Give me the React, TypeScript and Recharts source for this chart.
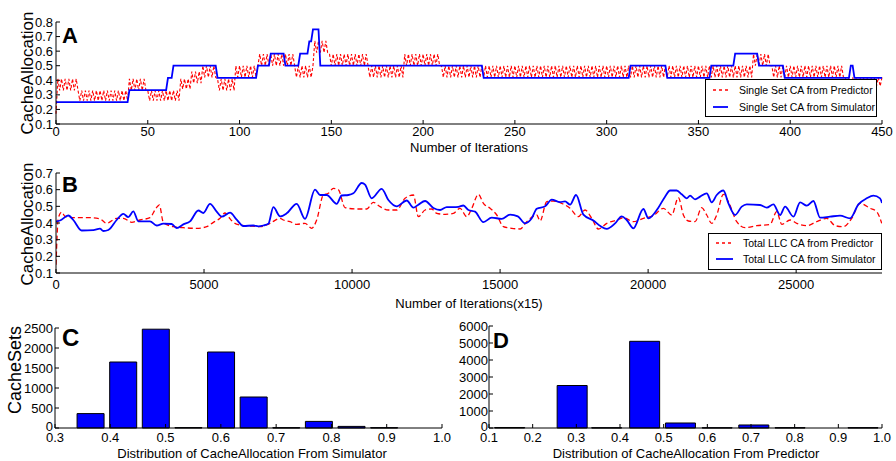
import { LineChart, Line, BarChart, Bar, XAxis, YAxis } from 'recharts';

const FONT = '"Liberation Sans", Arial, Helvetica, sans-serif';
const BLUE = '#0000ff';
const RED = '#ff0000';

// ---- panel A: single cache set, per iteration ----
const iterTicks = [0, 50, 100, 150, 200, 250, 300, 350, 400, 450];
const caTicksA = [0.1, 0.2, 0.3, 0.4, 0.5, 0.6, 0.7, 0.8];
// [first iteration, level] - simulator holds a level until the next entry
const simulatorSteps: [number, number][] = [
  [0, 0.25], [40, 0.333], [61, 0.417], [64, 0.5], [88, 0.417], [110, 0.5],
  [117, 0.583], [125, 0.5], [133, 0.583], [138, 0.667], [140, 0.75], [144, 0.5],
  [233, 0.417], [313, 0.5], [333, 0.417], [357, 0.5], [370, 0.583], [383, 0.5],
  [397, 0.417], [433, 0.5], [435, 0.417],
];
// [from, to, low, high] - predictor flips between low and high every iteration
const predictorBands: [number, number, number, number][] = [
  [0, 1, 0.17, 0.17], [1, 12, 0.33, 0.41], [12, 40, 0.26, 0.33], [40, 50, 0.33, 0.41],
  [50, 68, 0.26, 0.33], [68, 74, 0.34, 0.41], [74, 80, 0.38, 0.46], [80, 88, 0.42, 0.5],
  [88, 98, 0.33, 0.41], [98, 111, 0.42, 0.5], [111, 130, 0.5, 0.58], [130, 141, 0.42, 0.5],
  [141, 149, 0.59, 0.67], [149, 170, 0.5, 0.58], [170, 190, 0.42, 0.5], [190, 210, 0.5, 0.58],
  [210, 380, 0.42, 0.5], [380, 390, 0.5, 0.58], [390, 430, 0.42, 0.5], [430, 451, 0.36, 0.42],
];

// ---- panel B: total LLC, iterations x15 ----
const iterTicksB = [0, 5000, 10000, 15000, 20000, 25000];
const caTicksB = [0.1, 0.2, 0.3, 0.4, 0.5, 0.6, 0.7];
const totalPredictor: [number, number][] = [
  [0, 0.15], [79, 0.43], [191, 0.465], [304, 0.44], [585, 0.432], [1148, 0.432], [1486, 0.425],
  [1711, 0.398], [2049, 0.428], [2274, 0.428], [2556, 0.404], [2837, 0.418], [3175, 0.432],
  [3378, 0.488], [3490, 0.508], [3625, 0.404], [3963, 0.378], [4301, 0.372], [4752, 0.368],
  [5090, 0.378], [5315, 0.404], [5540, 0.428], [5709, 0.46], [5822, 0.438], [5991, 0.404],
  [6216, 0.388], [6553, 0.382], [6891, 0.378], [7229, 0.398], [7567, 0.428], [7680, 0.418],
  [7905, 0.408], [8130, 0.392], [8411, 0.398], [8636, 0.368], [8805, 0.418], [9030, 0.568],
  [9199, 0.578], [9368, 0.608], [9537, 0.6], [9763, 0.492], [10157, 0.484], [10495, 0.484],
  [10720, 0.524], [10945, 0.498], [11227, 0.478], [11509, 0.478], [11790, 0.548], [12071, 0.568],
  [12240, 0.438], [12466, 0.478], [12691, 0.484], [12860, 0.458], [13142, 0.452], [13423, 0.458],
  [13648, 0.488], [13874, 0.438], [14043, 0.488], [14268, 0.572], [14437, 0.518], [14662, 0.488],
  [14887, 0.448], [15112, 0.378], [15394, 0.368], [15675, 0.364], [15900, 0.408], [16238, 0.448],
  [16351, 0.412], [16576, 0.528], [16801, 0.532], [17082, 0.518], [17364, 0.488], [17645, 0.438],
  [17870, 0.478], [18095, 0.428], [18321, 0.364], [18602, 0.398], [18939, 0.418], [19164, 0.432],
  [19502, 0.408], [19840, 0.428], [20177, 0.444], [20515, 0.488], [20797, 0.448], [21022, 0.552],
  [21192, 0.448], [21361, 0.412], [21586, 0.408], [21811, 0.492], [21980, 0.448], [22149, 0.398],
  [22318, 0.448], [22543, 0.572], [22712, 0.528], [22993, 0.408], [23275, 0.372], [23669, 0.384],
  [24120, 0.392], [24345, 0.468], [24514, 0.392], [24795, 0.418], [25020, 0.398], [25358, 0.384],
  [25696, 0.408], [26034, 0.428], [26315, 0.384], [26596, 0.378], [26878, 0.428], [27159, 0.518],
  [27497, 0.488], [27722, 0.468], [27891, 0.398],
];
const totalSimulator: [number, number][] = [
  [0, 0.41], [135, 0.415], [417, 0.445], [585, 0.418], [867, 0.355], [1261, 0.357], [1486, 0.366],
  [1599, 0.352], [1768, 0.358], [2049, 0.418], [2274, 0.455], [2443, 0.435], [2612, 0.47],
  [2781, 0.41], [3175, 0.41], [3400, 0.385], [3625, 0.396], [3907, 0.394], [4076, 0.37],
  [4301, 0.392], [4527, 0.41], [4808, 0.475], [4977, 0.46], [5202, 0.515], [5427, 0.468],
  [5596, 0.438], [5878, 0.462], [6103, 0.42], [6328, 0.382], [6666, 0.385], [6835, 0.38],
  [7004, 0.385], [7173, 0.395], [7342, 0.495], [7567, 0.44], [7792, 0.458], [8130, 0.515],
  [8411, 0.425], [8749, 0.6], [8918, 0.568], [9143, 0.568], [9481, 0.515], [9650, 0.565],
  [9875, 0.568], [10044, 0.578], [10326, 0.64], [10438, 0.63], [10664, 0.548], [11001, 0.605],
  [11227, 0.538], [11509, 0.5], [11846, 0.535], [12071, 0.492], [12240, 0.51], [12466, 0.532],
  [12747, 0.49], [12972, 0.478], [13198, 0.495], [13423, 0.495], [13592, 0.497], [13761, 0.505],
  [13930, 0.478], [14155, 0.468], [14437, 0.405], [14718, 0.432], [15056, 0.425], [15338, 0.45],
  [15600, 0.44], [15844, 0.398], [16069, 0.428], [16238, 0.485], [16520, 0.5], [16745, 0.54],
  [17026, 0.525], [17195, 0.53], [17364, 0.51], [17566, 0.568], [17814, 0.45], [18152, 0.415],
  [18400, 0.38], [18602, 0.365], [18884, 0.398], [19108, 0.44], [19277, 0.418], [19502, 0.368],
  [19840, 0.484], [20008, 0.428], [20346, 0.492], [20572, 0.558], [20741, 0.595], [20966, 0.595],
  [21135, 0.572], [21304, 0.548], [21417, 0.564], [21586, 0.542], [21755, 0.558], [21980, 0.578],
  [22149, 0.524], [22318, 0.568], [22543, 0.595], [22712, 0.518], [22937, 0.448], [23162, 0.498],
  [23331, 0.512], [23782, 0.508], [24007, 0.492], [24232, 0.512], [24457, 0.448], [24626, 0.498],
  [24908, 0.438], [25133, 0.524], [25358, 0.504], [25583, 0.532], [25808, 0.432], [26146, 0.438],
  [26484, 0.444], [26821, 0.428], [27103, 0.512], [27384, 0.548], [27609, 0.564], [27834, 0.548],
  [27900, 0.52],
];

// ---- panel C: histogram from simulator ----
const simBins = [0.364, 0.423, 0.482, 0.541, 0.6, 0.659, 0.718, 0.777, 0.836, 0.895];
const simSets = [360, 1650, 2470, 10, 1900, 775, 8, 165, 40, 8];
const distTicksC = [0.3, 0.4, 0.5, 0.6, 0.7, 0.8, 0.9, 1.0];
const setTicksC = [0, 500, 1000, 1500, 2000, 2500];

// ---- panel D: histogram from predictor ----
const predBins = [0.148, 0.291, 0.37, 0.457, 0.539, 0.623, 0.707, 0.79, 0.874, 0.957];
const predSets = [30, 2500, 15, 5100, 295, 15, 178, 20, 0, 20];
const distTicksD = [0.1, 0.2, 0.3, 0.4, 0.5, 0.6, 0.7, 0.8, 0.9, 1.0];
const setTicksD = [0, 1000, 2000, 3000, 4000, 5000, 6000];

const singleSetData = Array.from({ length: 451 }, (_, i) => {
  let sim = simulatorSteps[0][1];
  for (const [start, level] of simulatorSteps) if (i >= start) sim = level;
  const band = predictorBands.find(([from, to]) => i >= from && i < to)!;
  const pred = (i - band[0]) % 2 === 0 ? band[3] : band[2];
  return { iter: i, simulator: sim, predictor: pred };
});
const predB = totalPredictor.map(([x, v]) => ({ x, v }));
const simB = totalSimulator.map(([x, v]) => ({ x, v }));
const simHist = simBins.map((bin, i) => ({ bin, sets: simSets[i] }));
const predHist = predBins.map((bin, i) => ({ bin, sets: predSets[i] }));

const tickStyle = { fill: '#000', fontSize: 13, fontFamily: FONT };
const frame = { stroke: '#000', strokeWidth: 1 };
const f1 = (v: number) => v.toFixed(1);
const blank = () => '';

// count ticks: the zero label sits a little above its tick, as in the original
const CountTick = (p: any) => (
  <text x={p.x} y={p.payload.value === 0 ? p.y - 2 : p.y} dy="0.355em" textAnchor="end"
    fill="#000" fontSize={13} fontFamily={FONT}>
    {p.payload.value}
  </text>
);

function Txt({ x, y, size = 13, rotate = false, children }: any) {
  return (
    <div
      style={{
        position: 'absolute', left: x, top: y, fontFamily: FONT, fontSize: size, lineHeight: 1,
        whiteSpace: 'nowrap', color: '#000',
        transform: rotate ? 'translate(-50%, -50%) rotate(-90deg)' : 'translate(-50%, -50%)',
      }}
    >
      {children}
    </div>
  );
}

function Letter({ x, y, size = 22, children }: any) {
  return (
    <div style={{ position: 'absolute', left: x, top: y, fontFamily: FONT, fontSize: size, fontWeight: 'bold', lineHeight: 1 }}>
      {children}
    </div>
  );
}

function LegendBox({ left, top, width, height, rows }: any) {
  return (
    <div style={{ position: 'absolute', left, top, width, height, boxSizing: 'border-box', border: '1px solid #000', background: '#fff' }}>
      {rows.map((r: any, i: number) => (
        <div key={i} style={{ position: 'absolute', left: 0, top: r.y - 7, height: 14, display: 'flex', alignItems: 'center' }}>
          <svg width={r.textX} height={14} style={{ flex: 'none' }}>
            <line x1={r.x1} x2={r.x2} y1={7} y2={7} stroke={r.color} strokeWidth={r.dashed ? 1.3 : 1.8} strokeDasharray={r.dashed ? '3 3' : undefined} />
          </svg>
          <span style={{ fontFamily: FONT, fontSize: 10.5, color: '#000', whiteSpace: 'nowrap' }}>{r.label}</span>
        </div>
      ))}
    </div>
  );
}

export default function App() {
  return (
    <div style={{ position: 'relative', width: 896, height: 461, background: '#fff', overflow: 'hidden' }}>
      <style>{'body{margin:0}'}</style>

      {/* A */}
      <div style={{ position: 'absolute', left: 0, top: 0 }}>
        <LineChart width={896} height={146} data={singleSetData} margin={{ top: 22, right: 14, left: 0, bottom: 0 }}>
          <XAxis dataKey="iter" type="number" domain={[0, 450]} ticks={iterTicks} interval={0} height={22}
            tickSize={-4} tickMargin={7} axisLine={frame} tickLine={frame} tick={tickStyle} />
          <XAxis xAxisId="top" orientation="top" dataKey="iter" type="number" domain={[0, 450]} ticks={iterTicks}
            interval={0} height={0} tickSize={-4} tickFormatter={blank} axisLine={frame} tickLine={frame} />
          <YAxis type="number" domain={[0.1, 0.8]} ticks={caTicksA} interval={0} width={56}
            tickSize={-4} tickMargin={7} tickFormatter={f1} axisLine={frame} tickLine={frame} tick={tickStyle} />
          <YAxis yAxisId="right" orientation="right" type="number" domain={[0.1, 0.8]} ticks={caTicksA}
            interval={0} width={0} tickSize={-4} tickFormatter={blank} axisLine={frame} tickLine={frame} />
          <Line dataKey="predictor" type="linear" stroke={RED} strokeWidth={1.1} strokeDasharray="3 2" dot={false} isAnimationActive={false} />
          <Line dataKey="simulator" type="linear" stroke={BLUE} strokeWidth={1.8} dot={false} isAnimationActive={false} />
        </LineChart>
      </div>

      {/* B */}
      <div style={{ position: 'absolute', left: 0, top: 150 }}>
        <LineChart width={896} height={150} margin={{ top: 23, right: 14, left: 0, bottom: 0 }}>
          <XAxis dataKey="x" type="number" domain={[0, 27900]} ticks={iterTicksB} interval={0} height={27}
            tickSize={-4} tickMargin={11} axisLine={frame} tickLine={frame} tick={tickStyle} allowDataOverflow />
          <XAxis xAxisId="top" orientation="top" dataKey="x" type="number" domain={[0, 27900]} ticks={iterTicksB}
            interval={0} height={0} tickSize={-4} tickFormatter={blank} axisLine={{ stroke: '#555' }} tickLine={frame} allowDataOverflow />
          <YAxis type="number" domain={[0.1, 0.7]} ticks={caTicksB} interval={0} width={56}
            tickSize={-4} tickMargin={7} tickFormatter={f1} axisLine={frame} tickLine={frame} tick={tickStyle} />
          <YAxis yAxisId="right" orientation="right" type="number" domain={[0.1, 0.7]} ticks={caTicksB}
            interval={0} width={0} tickSize={-4} tickFormatter={blank} axisLine={frame} tickLine={frame} />
          <Line data={predB} dataKey="v" type="monotone" stroke={RED} strokeWidth={1.3} strokeDasharray="5 3" dot={false} isAnimationActive={false} />
          <Line data={simB} dataKey="v" type="monotone" stroke={BLUE} strokeWidth={1.8} dot={false} isAnimationActive={false} />
        </LineChart>
      </div>

      {/* C */}
      <div style={{ position: 'absolute', left: 0, top: 310 }}>
        <BarChart width={460} height={140} data={simHist} margin={{ top: 18, right: 18, left: 0, bottom: 0 }}>
          <XAxis dataKey="bin" type="number" domain={[0.3, 1.0]} ticks={distTicksC} interval={0} height={22}
            tickSize={-4} tickMargin={9} tickFormatter={f1} axisLine={frame} tickLine={frame} tick={tickStyle} />
          <XAxis xAxisId="top" orientation="top" dataKey="bin" type="number" domain={[0.3, 1.0]} ticks={distTicksC}
            interval={0} height={0} tickSize={-4} tickFormatter={blank} axisLine={frame} tickLine={frame} />
          <YAxis type="number" domain={[0, 2500]} ticks={setTicksC} interval={0} width={55}
            tickSize={-4} tickMargin={6} axisLine={frame} tickLine={frame} tick={CountTick} />
          <YAxis yAxisId="right" orientation="right" type="number" domain={[0, 2500]} ticks={setTicksC}
            interval={0} width={0} tickSize={-4} tickFormatter={blank} axisLine={frame} tickLine={frame} />
          <Bar dataKey="sets" fill={BLUE} stroke="#000" strokeWidth={1} barSize={27} isAnimationActive={false} />
        </BarChart>
      </div>

      {/* D */}
      <div style={{ position: 'absolute', left: 448, top: 310 }}>
        <BarChart width={448} height={140} data={predHist} margin={{ top: 16, right: 14, left: 0, bottom: 0 }}>
          <XAxis dataKey="bin" type="number" domain={[0.1, 1.0]} ticks={distTicksD} interval={0} height={22}
            tickSize={-4} tickMargin={9} tickFormatter={f1} axisLine={frame} tickLine={frame} tick={tickStyle} />
          <XAxis xAxisId="top" orientation="top" dataKey="bin" type="number" domain={[0.1, 1.0]} ticks={distTicksD}
            interval={0} height={0} tickSize={-4} tickFormatter={blank} axisLine={frame} tickLine={frame} />
          <YAxis type="number" domain={[0, 6000]} ticks={setTicksD} interval={0} width={41}
            tickSize={-4} tickMargin={5} axisLine={frame} tickLine={frame} tick={CountTick} />
          <YAxis yAxisId="right" orientation="right" type="number" domain={[0, 6000]} ticks={setTicksD}
            interval={0} width={0} tickSize={-4} tickFormatter={blank} axisLine={frame} tickLine={frame} />
          <Bar dataKey="sets" fill={BLUE} stroke="#000" strokeWidth={1} barSize={30} isAnimationActive={false} />
        </BarChart>
      </div>

      <Letter x={62} y={25}>A</Letter>
      <Letter x={62} y={174}>B</Letter>
      <Letter x={62} y={326} size={24}>C</Letter>
      <Letter x={493} y={330}>D</Letter>

      <Txt x={27} y={73} size={17} rotate>CacheAllocation</Txt>
      <Txt x={27} y={224} size={17} rotate>CacheAllocation</Txt>
      <Txt x={15} y={370} size={18} rotate>CacheSets</Txt>
      <Txt x={469} y={147}>Number of Iterations</Txt>
      <Txt x={469} y={303}>Number of Iterations(x15)</Txt>
      <Txt x={252} y={453}>Distribution of CacheAllocation From Simulator</Txt>
      <Txt x={686} y={453}>Distribution of CacheAllocation From Predictor</Txt>

      <LegendBox left={705} top={79} width={172} height={38} rows={[
        { y: 10, x1: 7, x2: 22, textX: 33, color: RED, dashed: true, label: 'Single Set CA from Predictor' },
        { y: 27, x1: 7, x2: 22, textX: 33, color: BLUE, dashed: false, label: 'Single Set CA from Simulator' },
      ]} />
      <LegendBox left={708} top={233} width={174} height={37} rows={[
        { y: 9, x1: 7, x2: 24, textX: 34, color: RED, dashed: true, label: 'Total LLC CA from Predictor' },
        { y: 25, x1: 7, x2: 24, textX: 34, color: BLUE, dashed: false, label: 'Total LLC CA from Simulator' },
      ]} />
    </div>
  );
}
